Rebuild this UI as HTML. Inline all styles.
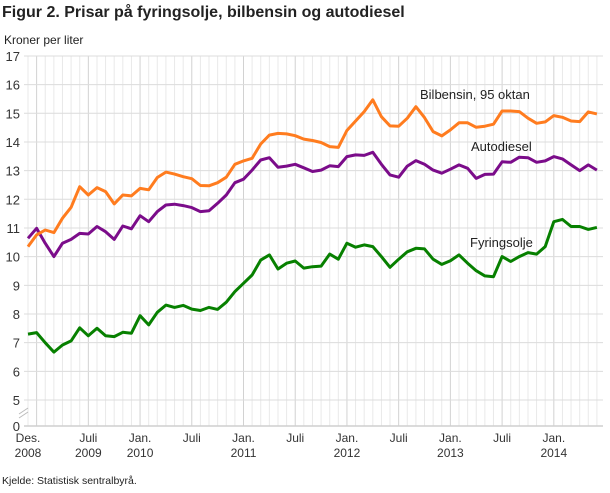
<!DOCTYPE html>
<html><head><meta charset="utf-8"><style>
body{margin:0;background:#fff;width:610px;height:488px;overflow:hidden;font-family:"Liberation Sans",sans-serif}
</style></head><body>
<svg id="s" width="610" height="488" xmlns="http://www.w3.org/2000/svg" font-family="Liberation Sans, sans-serif">
<text x="2" y="17" font-size="16" font-weight="bold" fill="#222">Figur 2. Prisar på fyringsolje, bilbensin og autodiesel</text>
<text x="4" y="44" font-size="12" fill="#222">Kroner per liter</text>
<text x="2" y="484" font-size="10.5" fill="#222">Kjelde: Statistisk sentralbyrå.</text>
<g id="grid"></g><g id="lines"></g><g id="lab"></g>
</svg>
<script>
var NS="http://www.w3.org/2000/svg",s=document.getElementById('s');
function el(p,t,a,txt){var e=document.createElementNS(NS,t);for(var k in a)e.setAttribute(k,a[k]);if(txt)e.textContent=txt;document.getElementById(p).appendChild(e);return e;}
function X(m){return 28+m*8.62;}
function Y(v){return 400-(v-5)*28.67;}
var g='grid';
for(var m=0;m<=67;m++){var x=X(m);if(x>603)break;var mo=(m+11)%12;var major=(mo==0||mo==6);
el(g,'line',{x1:x,x2:x,y1:56,y2:426,stroke:major?'#d2d2d2':'#e9e9e9','stroke-width':1});}
for(var v=5;v<=17;v++){el(g,'line',{x1:24,x2:603,y1:Y(v),y2:Y(v),stroke:'#dcdcdc','stroke-width':1});
el('lab','text',{x:20,y:Y(v)+5,'font-size':13,'text-anchor':'end',fill:'#333'},String(v));}
el(g,'line',{x1:24,x2:603,y1:426,y2:426,stroke:'#cfcfcf','stroke-width':1.5});
el('lab','text',{x:20,y:431,'font-size':13,'text-anchor':'end',fill:'#333'},'0');
el(g,'line',{x1:19,x2:28,y1:414,y2:408,stroke:'#bbb'});el(g,'line',{x1:19,x2:28,y1:418,y2:412,stroke:'#bbb'});
var xl=[[0,'Des.','2008'],[7,'Juli','2009'],[13,'Jan.','2010'],[19,'Juli',''],[25,'Jan.','2011'],[31,'Juli',''],[37,'Jan.','2012'],[43,'Juli',''],[49,'Jan.','2013'],[55,'Juli',''],[61,'Jan.','2014']];
xl=[[0,'Des.','2008'],[7,'Juli','2009'],[13,'Jan.','2010'],[19,'Juli',''],[25,'Jan.','2011'],[31,'Juli',''],[37,'Jan.','2012'],[43,'Juli',''],[49,'Jan.','2013'],[55,'Juli',''],[61,'Jan.','2014']];
// fix label positions per reference (Juli 2009 at month 7, 2011 label under Jan)
xl.forEach(function(l){el('lab','text',{x:X(l[0]),y:442,'font-size':12,'text-anchor':'middle',fill:'#333'},l[1]);
if(l[2])el('lab','text',{x:X(l[0]),y:457,'font-size':12,'text-anchor':'middle',fill:'#333'},l[2]);});
var o=[10.35,10.76,10.93,10.84,11.34,11.72,12.44,12.15,12.41,12.27,11.84,12.15,12.12,12.38,12.33,12.76,12.95,12.88,12.79,12.72,12.48,12.47,12.58,12.77,13.22,13.34,13.43,13.93,14.24,14.30,14.28,14.22,14.10,14.05,13.98,13.84,13.81,14.40,14.73,15.06,15.47,14.88,14.56,14.55,14.83,15.23,14.85,14.36,14.21,14.42,14.67,14.67,14.51,14.55,14.62,15.08,15.08,15.06,14.83,14.65,14.70,14.92,14.86,14.73,14.71,15.05,14.98];
var p=[10.64,10.99,10.47,10.00,10.47,10.60,10.81,10.79,11.05,10.87,10.60,11.07,10.97,11.43,11.22,11.57,11.80,11.83,11.78,11.71,11.57,11.60,11.86,12.15,12.58,12.70,13.02,13.37,13.45,13.12,13.16,13.22,13.10,12.97,13.02,13.17,13.14,13.49,13.55,13.53,13.64,13.22,12.85,12.77,13.16,13.35,13.22,13.02,12.91,13.05,13.20,13.08,12.73,12.87,12.88,13.31,13.29,13.47,13.45,13.29,13.34,13.49,13.41,13.20,13.00,13.20,13.02];
var gr=[7.30,7.35,7.00,6.67,6.92,7.06,7.52,7.24,7.50,7.24,7.21,7.36,7.33,7.94,7.62,8.06,8.31,8.23,8.30,8.17,8.12,8.23,8.16,8.41,8.78,9.07,9.36,9.88,10.06,9.57,9.77,9.85,9.60,9.65,9.67,10.09,9.91,10.47,10.33,10.41,10.35,10.00,9.63,9.91,10.17,10.29,10.27,9.91,9.73,9.86,10.06,9.77,9.51,9.33,9.30,10.00,9.83,10.00,10.14,10.09,10.35,11.22,11.30,11.05,11.05,10.95,11.02];
function line(d,c){el('lines','polyline',{points:d.map(function(v,i){return X(i).toFixed(1)+','+Y(v).toFixed(1)}).join(' '),fill:'none',stroke:c,'stroke-width':3,'stroke-linejoin':'round'});}
line(gr,'#078000');line(p,'#7b0c8a');line(o,'#ff7c1f');
el('lab','text',{x:420,y:99,'font-size':13,fill:'#222'},'Bilbensin, 95 oktan');
el('lab','text',{x:471,y:151,'font-size':13,fill:'#222'},'Autodiesel');
el('lab','text',{x:470,y:247,'font-size':13,fill:'#222'},'Fyringsolje');
</script>
</body></html>
